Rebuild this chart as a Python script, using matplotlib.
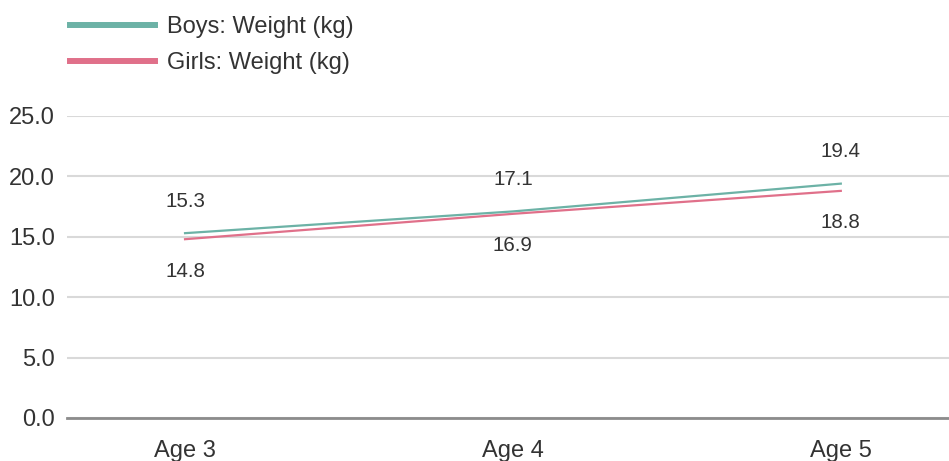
import matplotlib
matplotlib.use("Agg")
import matplotlib.pyplot as plt

ages = ["Age 3", "Age 4", "Age 5"]
boys_weight = [15.3, 17.1, 19.4]
girls_weight = [14.8, 16.9, 18.8]
y_ticks = [0, 5, 10, 15, 20, 25]

plt.rcParams['font.family'] = ['Liberation Sans', 'DejaVu Sans']

boys_color = '#6cb2a6'
girls_color = '#e0708a'
text_color = '#333333'

fig = plt.figure(figsize=(9.49, 4.61), dpi=100)
ax = fig.add_axes([0.0706, 0.0933, 0.9294, 0.6551])

x = list(range(len(ages)))
ax.plot(x, boys_weight, color=boys_color, lw=1.6, label='Boys: Weight (kg)', zorder=3)
ax.plot(x, girls_weight, color=girls_color, lw=1.6, label='Girls: Weight (kg)', zorder=3)

for xi, b, g in zip(x, boys_weight, girls_weight):
    ax.annotate(f"{b:.1f}", (xi, b), xytext=(0, 23), textcoords='offset points',
                ha='center', va='center', fontsize=14.8, color=text_color)
    ax.annotate(f"{g:.1f}", (xi, g), xytext=(0, -23), textcoords='offset points',
                ha='center', va='center', fontsize=14.8, color=text_color)

ax.set_xlim(-0.36, 2.33)
ax.set_ylim(0, 25)
ax.set_yticks(y_ticks)
ax.set_yticklabels([f"{v:.1f}" for v in y_ticks])
ax.set_xticks(x)
ax.set_xticklabels(ages)
ax.tick_params(axis='y', length=0, pad=8.5, labelsize=17, labelcolor=text_color)
ax.tick_params(axis='x', length=0, pad=16, labelsize=17, labelcolor=text_color)

ax.grid(axis='y', color='#d9d9d9', lw=1.5)
ax.set_axisbelow(True)
for s in ['top', 'right', 'left']:
    ax.spines[s].set_visible(False)
ax.spines['bottom'].set_color('#8c8c8c')
ax.spines['bottom'].set_linewidth(2)
ax.spines['bottom'].set_zorder(4)

leg = fig.legend(loc='upper left', bbox_to_anchor=(70 / 949, 1 - 16 / 461),
                 frameon=False, fontsize=17, handlelength=3.6, handletextpad=0.5,
                 labelspacing=0.6, borderpad=0, borderaxespad=0)
for line in leg.get_lines():
    line.set_linewidth(4.3)
for t in leg.get_texts():
    t.set_color(text_color)

fig.savefig('out.png', dpi=100)
